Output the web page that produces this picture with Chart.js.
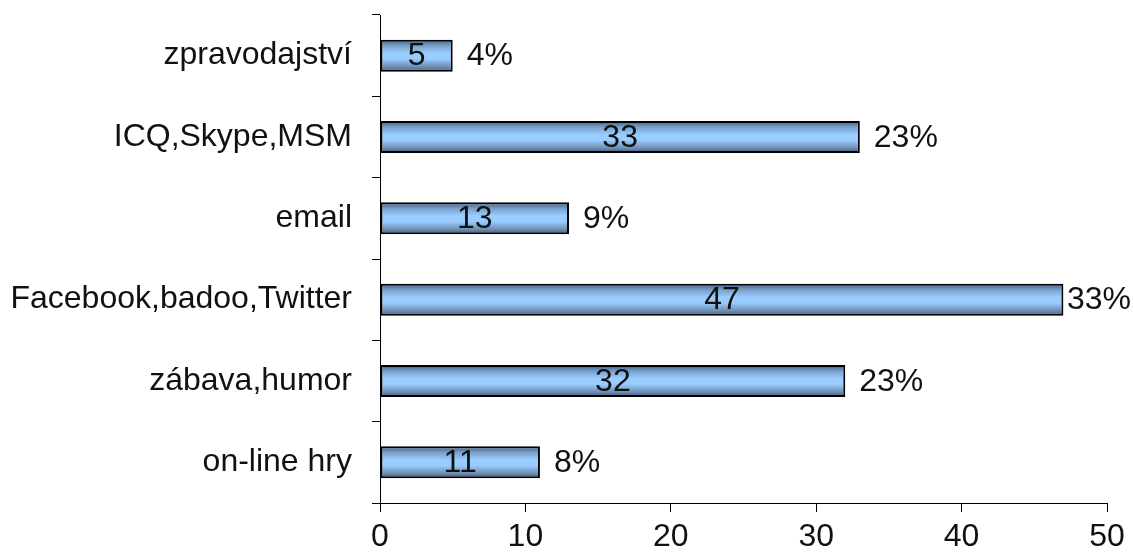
<!DOCTYPE html>
<html>
<head>
<meta charset="utf-8">
<script src="https://cdn.jsdelivr.net/npm/chart.js@4/dist/chart.umd.min.js"></script>
<style>
  html, body { margin: 0; padding: 0; background: #fff; }
  #wrap { width: 1133px; height: 553px; }
</style>
</head>
<body>
<div id="wrap"><canvas id="chart" width="1133" height="553"></canvas></div>
<script>
const categories = ["zpravodajství", "ICQ,Skype,MSM", "email", "Facebook,badoo,Twitter", "zábava,humor", "on-line hry"];
const counts = [5, 33, 13, 47, 32, 11];
const percents = ["4%", "23%", "9%", "33%", "23%", "8%"];
const xTicks = [0, 10, 20, 30, 40, 50];

const FONT = '"Liberation Sans", Arial, sans-serif';

// vertical gradient for each bar, dark edges and light middle
function barFill(context) {
  const chart = context.chart;
  const y = chart.scales.y;
  if (!chart.chartArea || !y || context.dataIndex === undefined) return "#99ccff";
  const c = y.getPixelForValue(context.dataIndex);
  const half = 16;
  const g = chart.ctx.createLinearGradient(0, c - half, 0, c + half);
  g.addColorStop(0, "#3f5c7c");
  g.addColorStop(0.2, "#7aa2cc");
  g.addColorStop(0.42, "#99ccff");
  g.addColorStop(0.6, "#99ccff");
  g.addColorStop(0.85, "#6d8db2");
  g.addColorStop(1, "#3e5670");
  return g;
}

const barLabels = {
  id: "barLabels",
  afterDatasetsDraw(chart) {
    const ctx = chart.ctx;
    const meta = chart.getDatasetMeta(0);
    ctx.save();
    ctx.font = "32px " + FONT;
    ctx.fillStyle = "#111";
    ctx.textBaseline = "middle";
    meta.data.forEach((bar, i) => {
      ctx.textAlign = "center";
      ctx.fillText(String(counts[i]), (bar.base + bar.x) / 2, bar.y + 1);
      const txt = percents[i];
      const w = ctx.measureText(txt).width;
      let px = bar.x + 14;
      if (px + w > chart.width - 2) px = chart.width - 2 - w;
      ctx.textAlign = "left";
      ctx.fillText(txt, px, bar.y + 1);
    });
    ctx.restore();
  }
};

new Chart(document.getElementById("chart"), {
  type: "bar",
  data: {
    labels: categories,
    datasets: [{
      data: counts,
      backgroundColor: barFill,
      borderColor: "#000",
      borderWidth: 2,
      borderSkipped: false,
      barPercentage: 0.394,
      categoryPercentage: 1
    }]
  },
  options: {
    indexAxis: "y",
    responsive: false,
    animation: false,
    layout: { padding: { top: 15, right: 26, bottom: 0, left: 0 } },
    plugins: { legend: { display: false }, tooltip: { enabled: false } },
    scales: {
      x: {
        min: 0,
        max: 50,
        afterBuildTicks: (s) => { s.ticks = xTicks.map(v => ({ value: v })); },
        afterFit: (s) => { s.height = 50; s.paddingLeft = 0; s.paddingRight = 0; },
        border: { color: "#000", width: 1 },
        grid: { drawOnChartArea: false, tickLength: 9, color: "#000" },
        ticks: { color: "#111", font: { size: 32, family: FONT }, padding: 6, maxRotation: 0 }
      },
      y: {
        afterFit: (s) => { s.width = 380; s.paddingTop = 0; s.paddingBottom = 0; },
        border: { color: "#000", width: 1 },
        grid: { drawOnChartArea: false, tickLength: 8, color: "#000", offset: true },
        ticks: { color: "#111", font: { size: 32, family: FONT }, padding: 20 }
      }
    }
  },
  plugins: [barLabels]
});
</script>
</body>
</html>
